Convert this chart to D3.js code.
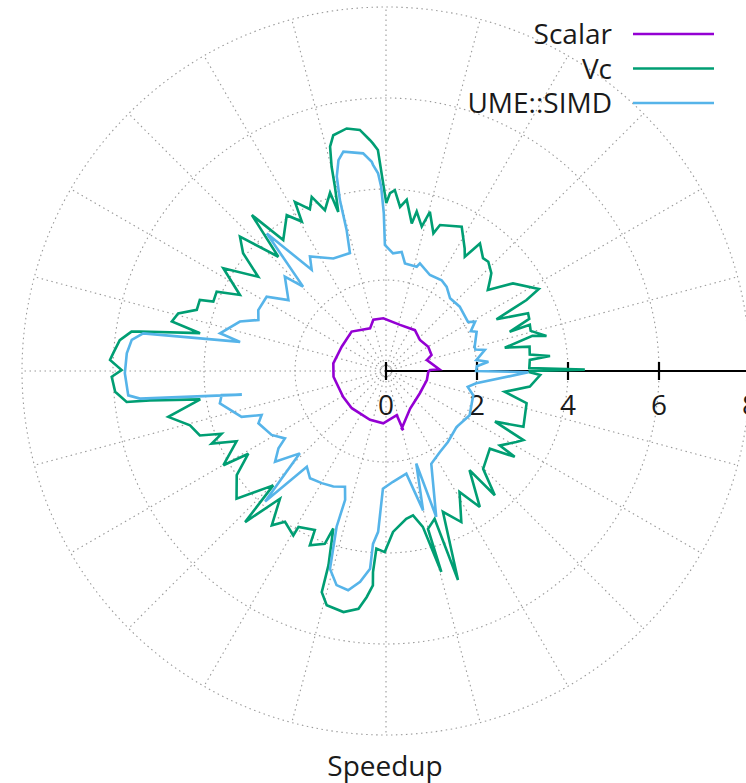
<!DOCTYPE html>
<html><head><meta charset="utf-8">
<script src="https://cdn.jsdelivr.net/npm/d3@7"></script>
<style>
body{margin:0;background:#fff;}
text{font-family:"Open Sans","Noto Sans",sans-serif;fill:#1a1a1a;}
</style></head>
<body><svg id="chart" width="746" height="783"></svg>
<script>
// ---------- data (theta in degrees, counter-clockwise from +x; r = speedup) ----------
const seriesNames = ["Scalar", "Vc", "UME::SIMD"];
const seriesColors = ["#9400d3", "#009e73", "#56b4e9"];
const rTicks = [0, 2, 4, 6, 8];
const thetaGrid = d3.range(0, 360, 15);
const axisTitle = "Speedup";

const scalarTheta = [1.3,1.8,15.1,19.3,29.9,42.4,54.7,73.1,92.9,103.9,110.5,131.1,151.3,171.7,186.2,211.0,227.4,251.9,267.0,283.7,286.3,285.3,302.8,326.7,347.5,359.0];
const scalarSpeedup = [0.97,1.17,0.93,1.06,1.07,1.01,1.10,1.06,1.16,1.16,1.00,1.15,1.11,1.17,1.16,1.10,1.11,1.13,1.15,1.00,1.35,1.31,0.98,0.89,0.92,0.93];

const vcTheta = [0,0.4,1.2,4.4,5.2,6.5,9.6,11.1,13.5,12.3,15.5,17.8,17.6,20,22.1,25.1,26.8,28.2,34.6,38.5,41.2,42.9,46.9,49.3,53.6,55.4,57.3,62.3,69.7,71.0,74.6,76.1,79.1,80.1,83.1,85.1,87.2,88.7,89.9,92.1,93.3,94.0,96.2,99.2,102.6,104.0,104.9,105.5,106.7,107.4,110.8,113.1,115.2,118.3,119.4,122.5,128.1,130.7,133.3,137.4,140.5,143.6,147.7,152.5,154.9,158.1,159.1,162.1,164.5,167.0,168.5,170.9,171.2,173.4,176.3,177.7,179.8,181.2,184.4,186.8,187.1,188.7,191.9,195.5,199.1,200.9,202.6,205.2,210.1,211.0,214.9,220.5,225.4,227.0,230.3,233.5,236.2,240.6,240.7,245.9,246.4,250.5,251.5,253.5,253.8,255.8,260.0,263.4,265.1,266.5,266.3,266.9,269.6,272.5,277.8,280.6,283.3,285.4,284.9,288.2,289.0,292.0,296.5,301.3,304.6,310.1,311.2,314.8,323.2,326.3,326.8,331.4,333.3,335.1,337.9,347.1,350.1,353.8,358.5,359.5];
const vcSpeedup = [3.16,4.37,3.15,3.17,3.62,3.18,3.20,2.66,3.31,3.61,3.30,3.32,2.85,3.35,3.37,2.68,3.46,3.81,3.39,2.86,3.04,3.16,3.29,3.27,3.48,3.05,3.20,3.58,3.42,3.20,3.63,3.27,3.57,3.29,3.79,3.62,3.98,3.91,3.69,4.86,5.01,5.09,5.33,5.40,5.31,5.08,4.65,4.20,3.65,4.11,3.78,4.16,3.93,4.22,3.77,4.06,3.66,4.52,3.45,4.36,4.07,3.49,4.23,3.62,4.11,4.09,4.38,4.37,4.74,4.83,4.17,5.48,5.66,5.89,6.01,6.07,5.81,6.03,5.97,5.74,5.23,4.13,4.89,4.47,4.33,3.87,4.15,3.63,4.13,3.53,4.00,4.32,3.53,4.54,3.65,4.22,3.99,4.15,3.93,3.83,4.18,4.03,3.65,4.45,5.06,5.31,5.38,5.26,4.99,4.72,4.43,3.91,3.98,3.54,3.28,3.23,3.52,4.58,3.59,3.42,4.86,3.34,3.71,3.11,3.63,2.85,3.63,3.03,2.85,3.40,2.99,3.26,3.38,2.64,3.26,3.17,2.65,3.18,3.39,3.16];

const umeTheta = [0,3.0,5.2,6.9,12.0,13.5,15.3,23.4,25.2,29.0,30.9,34.5,41.1,48.6,54.2,58.5,65.4,72.5,73.6,80.0,82.5,86.6,90.5,90.8,91.5,92.3,93.6,93.9,96.0,101.0,102.7,104.2,105.1,105.6,107.0,115.1,123.6,126.3,130.9,134.5,137.0,144.0,148.1,154.5,158.2,161.3,167.2,168.7,171.2,173.0,176.1,180.5,185.4,186.4,189.3,188.3,191.0,197.6,199.5,202.3,209.2,213.7,215.7,219.3,223.7,227.2,230.4,234.7,240.2,245.5,250.5,252.4,252.4,254.2,257.0,260.2,263.0,265.4,265.7,267.2,268.5,273.6,281.2,284.9,288.1,289.0,296.0,303.5,311.1,321.5,332.1,344.4,349.0,352.2,359.5];
const umeSpeedup = [1.98,2.00,2.26,2.00,2.22,2.02,2.02,2.17,2.06,2.24,2.10,2.11,2.15,2.13,2.28,2.34,2.32,2.48,2.39,2.40,2.64,2.59,2.77,3.47,4.05,4.35,4.54,4.61,4.81,4.91,4.75,4.41,3.89,3.22,2.71,2.73,3.02,2.76,4.00,2.60,3.04,2.65,3.09,3.11,3.02,3.39,3.74,3.27,5.40,5.63,5.71,5.74,5.69,5.44,3.21,3.65,3.72,3.33,2.90,3.03,2.88,2.67,2.91,3.15,2.62,3.91,2.73,2.89,2.84,2.79,2.70,2.97,3.59,4.52,4.83,4.89,4.67,4.36,3.81,3.54,2.59,2.44,2.30,3.17,2.14,3.39,2.27,2.14,2.07,1.98,2.08,1.99,1.83,2.00,3.13];

const seriesTheta = [scalarTheta, vcTheta, umeTheta];
const seriesSpeedup = [scalarSpeedup, vcSpeedup, umeSpeedup];

// ---------- layout ----------
const svg = d3.select("#chart");
const cx = 386, cy = 371;
const rScale = d3.scaleLinear().domain([0, 8]).range([0, 364]);
const angScale = d3.scaleLinear().domain([0, 360]).range([Math.PI / 2, Math.PI / 2 - 2 * Math.PI]);
const gridColor = "#9a9a9a", gridDash = "1.5,3.5";

const g = svg.append("g").attr("transform", `translate(${cx},${cy})`);

// grid circles
g.append("g").selectAll("circle").data(rTicks.filter(d => d > 0)).join("circle")
  .attr("r", d => rScale(d)).attr("fill", "none")
  .attr("stroke", gridColor).attr("stroke-width", 1.1).attr("stroke-dasharray", gridDash);

// radial grid lines
g.append("g").selectAll("line").data(thetaGrid).join("line")
  .attr("x1", 0).attr("y1", 0)
  .attr("x2", d => rScale(8) * Math.sin(angScale(d)))
  .attr("y2", d => -rScale(8) * Math.cos(angScale(d)))
  .attr("stroke", gridColor).attr("stroke-width", 1.1).attr("stroke-dasharray", gridDash);

// r axis
const ax = g.append("g");
ax.append("line").attr("x1", 0).attr("y1", 0).attr("x2", rScale(8) + 10).attr("y2", 0)
  .attr("stroke", "#000").attr("stroke-width", 2.2);
ax.selectAll("line.tick").data(rTicks).join("line").attr("class", "tick")
  .attr("x1", d => rScale(d)).attr("x2", d => rScale(d))
  .attr("y1", -9).attr("y2", 9).attr("stroke", "#000").attr("stroke-width", 2.2);
ax.selectAll("text").data(rTicks).join("text")
  .attr("x", d => rScale(d)).attr("y", 44).attr("text-anchor", "middle")
  .attr("font-size", 28).text(d => d);

// curves
const radial = d3.lineRadial().curve(d3.curveLinearClosed);
seriesNames.forEach((name, i) => {
  const pts = seriesTheta[i].map((t, j) => [angScale(t), rScale(seriesSpeedup[i][j])]);
  g.append("path").attr("d", radial(pts)).attr("fill", "none")
    .attr("stroke", seriesColors[i]).attr("stroke-width", 2.6).attr("stroke-linejoin", "miter")
    .attr("stroke-miterlimit", 3);
});

// legend
const leg = svg.append("g");
seriesNames.forEach((name, i) => {
  const y = 34 + i * 34.5;
  leg.append("text").attr("x", 612).attr("y", y + 10).attr("text-anchor", "end")
    .attr("font-size", 28).text(name);
  leg.append("line").attr("x1", 633).attr("x2", 714).attr("y1", y).attr("y2", y)
    .attr("stroke", seriesColors[i]).attr("stroke-width", 2.6);
});

// axis title
svg.append("text").attr("x", 385).attr("y", 776).attr("text-anchor", "middle")
  .attr("font-size", 28).text(axisTitle);
</script></body></html>
